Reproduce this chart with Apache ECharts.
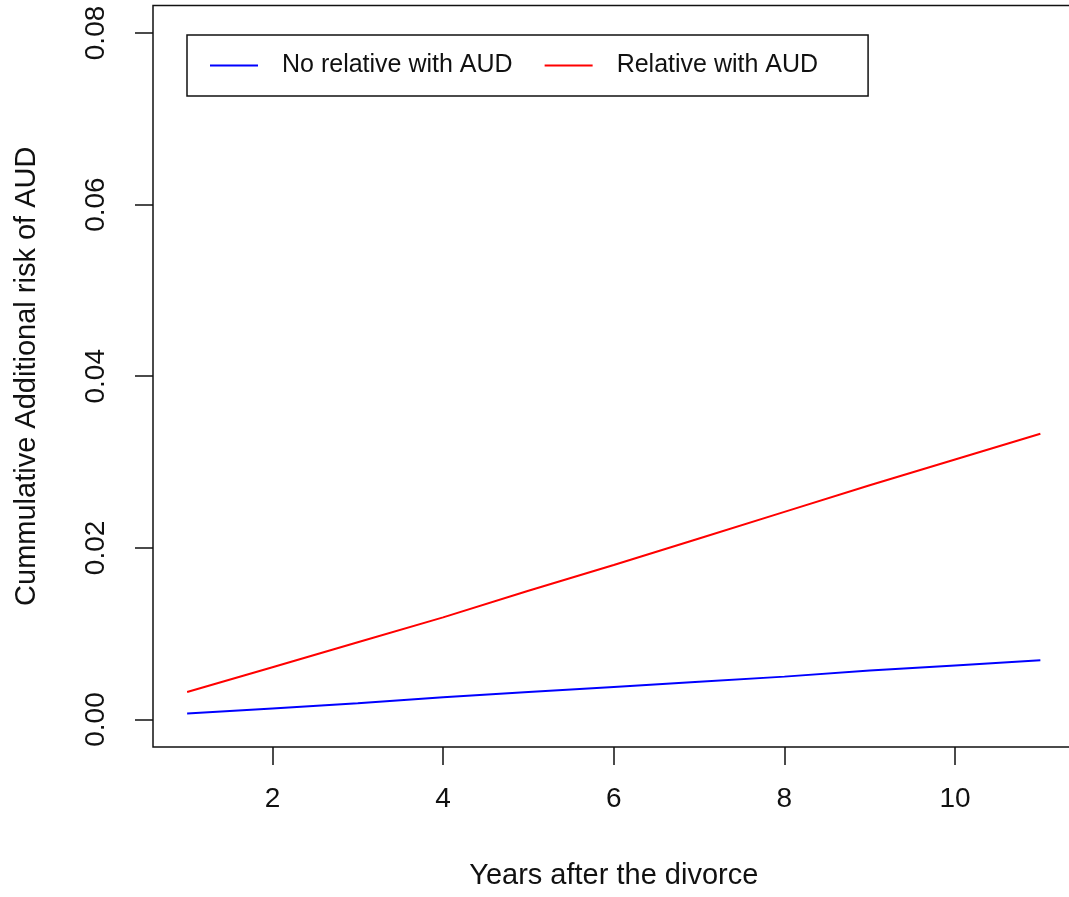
<!DOCTYPE html>
<html>
<head>
<meta charset="utf-8">
<script src="https://cdn.jsdelivr.net/npm/echarts@6/dist/echarts.min.js"></script>
<style>
html,body{margin:0;padding:0;background:#fff;}
#chart{width:1069px;height:897px;}
</style>
</head>
<body>
<div id="chart"></div>
<script>
var years = [1, 2, 3, 4, 5, 6, 7, 8, 9, 10, 11];
var noRelative = [0.0007, 0.0013, 0.0019, 0.0026, 0.0032, 0.0038, 0.0044, 0.0050, 0.0057, 0.0063, 0.0069];
var relative = [0.0032, 0.0061, 0.0090, 0.0119, 0.0150, 0.0180, 0.0211, 0.0242, 0.0273, 0.0303, 0.0333];
var xTicks = [2, 4, 6, 8, 10];
var yTicks = [0, 0.02, 0.04, 0.06, 0.08];
var seriesNames = ['No relative with AUD', 'Relative with AUD'];
var xTitle = 'Years after the divorce';
var yTitle = 'Cummulative Additional risk of AUD';

function pairs(xs, ys) { return xs.map(function (x, i) { return [x, ys[i]]; }); }

var FONT = 'Liberation Sans, Arial, sans-serif';
var chart = echarts.init(document.getElementById('chart'), null, {renderer: 'canvas'});
chart.setOption({
  backgroundColor: '#fff',
  animation: false,
  grid: {
    left: 153, top: 5.5, width: 921.5, height: 741.5,
    outerBoundsMode: 'none',
    show: true, borderColor: '#111', borderWidth: 1.5, backgroundColor: 'transparent'
  },
  legend: {
    left: 187, top: 35,
    padding: [17, 50, 17, 23],
    itemGap: 32,
    icon: 'rect',
    itemWidth: 48, itemHeight: 2,
    borderColor: '#111', borderWidth: 1.5,
    textStyle: {fontFamily: FONT, fontSize: 25, color: '#111', padding: [0, 0, 0, 19], lineHeight: 27},
    data: seriesNames
  },
  xAxis: {
    type: 'value', min: 0.6, max: 11.4,
    name: xTitle, nameLocation: 'middle', nameGap: 114,
    nameTextStyle: {fontFamily: FONT, fontSize: 29, color: '#111'},
    axisLine: {show: false, onZero: false},
    splitLine: {show: false},
    axisTick: {show: true, length: 18, lineStyle: {color: '#111', width: 1.5}, customValues: xTicks},
    axisLabel: {fontFamily: FONT, fontSize: 28, color: '#111', margin: 38, customValues: xTicks}
  },
  yAxis: {
    type: 'value', min: -0.0032, max: 0.0832,
    name: yTitle, nameLocation: 'middle', nameGap: 112, nameRotate: 90,
    nameTextStyle: {fontFamily: FONT, fontSize: 29, color: '#111'},
    axisLine: {show: false, onZero: false},
    splitLine: {show: false},
    axisTick: {show: true, length: 18, lineStyle: {color: '#111', width: 1.5}, customValues: yTicks},
    axisLabel: {fontFamily: FONT, fontSize: 28, color: '#111', margin: 43, rotate: 90,
      customValues: yTicks,
      formatter: function (v) { return v.toFixed(2); }}
  },
  series: [
    {name: seriesNames[0], type: 'line', data: pairs(years, noRelative), symbol: 'none',
      lineStyle: {color: '#0000ff', width: 2}, itemStyle: {color: '#0000ff'}},
    {name: seriesNames[1], type: 'line', data: pairs(years, relative), symbol: 'none',
      lineStyle: {color: '#ff0000', width: 2}, itemStyle: {color: '#ff0000'}}
  ]
});
</script>
</body>
</html>
